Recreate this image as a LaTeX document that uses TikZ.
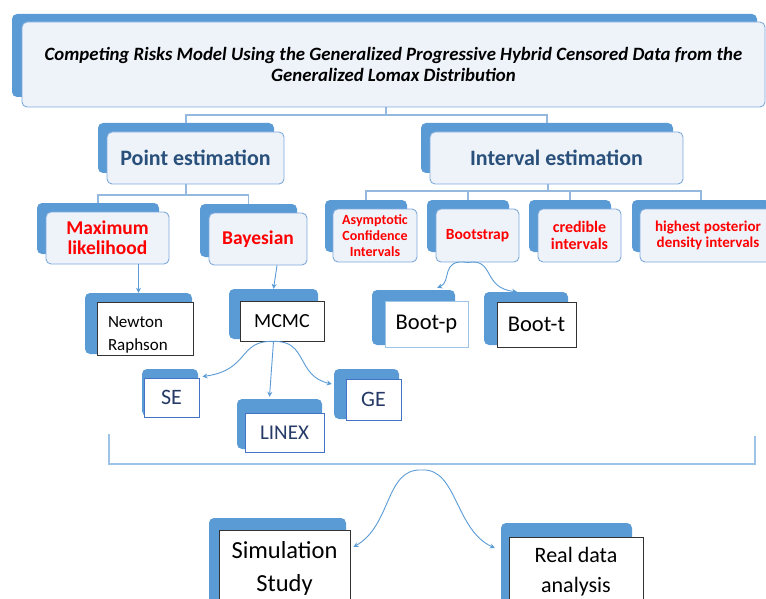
\documentclass[tikz,border=0pt]{standalone}
\usepackage{fontspec}
\setmainfont{Carlito}
\usetikzlibrary{arrows.meta,calc}
\definecolor{bk}{HTML}{5B9BD5}
\definecolor{fr}{HTML}{EEF3FA}
\definecolor{frb}{HTML}{7FA9DB}
\definecolor{ln}{HTML}{95B8DE}
\definecolor{ar}{HTML}{5B9BD5}
\definecolor{hd}{HTML}{29507A}
\definecolor{nv}{HTML}{253A66}
\definecolor{sb}{HTML}{4472C4}
\definecolor{lb}{HTML}{9DC3E6}
\newcommand\rbox[7]{%
  \node[#2, minimum width={(#5-#3)*1pt}, minimum height={(#6-#4)*1pt}] (#1) at ({(#3+#5)/2},{(#4+#6)/2}) {#7};}
\tikzset{
  back/.style={fill=bk, rounded corners=5pt, inner sep=0pt},
  front/.style={fill=fr, draw=frb, line width=0.9pt, rounded corners=5pt, inner sep=0pt, align=center},
  plainbox/.style={fill=white, draw=black!80, line width=0.9pt, inner sep=0pt, align=center},
  bluebox/.style={fill=white, draw=sb, line width=0.9pt, inner sep=0pt, align=center, text=nv},
  lightbox/.style={fill=white, draw=lb, line width=0.9pt, inner sep=0pt, align=center},
  conn/.style={draw=ln, line width=1.2pt},
  arr/.style={draw=ar, line width=0.9pt, -{Stealth[length=5pt,width=5pt]}},
  headtxt/.style={font=\fontsize{22}{24}\selectfont\bfseries, text=hd},
  redtxt/.style={font=\fontsize{19.5}{20}\selectfont\bfseries, text=red},
  redsm/.style={font=\fontsize{15.5}{17}\selectfont\bfseries, text=red},
  titletxt/.style={font=\fontsize{18.8}{21}\selectfont\bfseries\itshape},
}
\begin{document}
\begin{tikzpicture}[x=1pt,y=-1pt]
\useasboundingbox (0,0) rectangle (766,599);
\clip (0,0) rectangle (766,599);
% title
\rbox{tb}{back}{12}{14}{757}{97}{}
\rbox{t}{front,titletxt}{22}{22}{765}{107}{Competing Risks Model Using the Generalized Progressive Hybrid Censored Data from the\\ Generalized Lomax Distribution}
% level 1
\rbox{peb}{back}{98}{123}{274}{173}{}
\rbox{pe}{front,headtxt}{107}{132}{284}{184}{Point estimation}
\rbox{ieb}{back}{421}{123}{673}{173}{}
\rbox{ie}{front,headtxt}{430}{132}{683}{184}{Interval estimation}
% level 2
\rbox{mlb}{back}{37}{203}{159}{254}{}
\rbox{ml}{front,redtxt}{46}{212}{169}{264}{Maximum\\likelihood}
\rbox{bab}{back}{200}{204}{297}{257}{}
\rbox{ba}{front,redtxt}{209}{213}{307}{265}{Bayesian}
\rbox{asb}{back}{325}{200}{407}{252}{}
\rbox{as}{front,font=\fontsize{14}{16}\selectfont\bfseries,text=red}{333}{209}{417}{262}{Asymptotic\\Confidence\\Intervals}
\rbox{bsb}{back}{427}{200}{509}{252}{}
\rbox{bs}{front,redsm}{436}{209}{519}{262}{Bootstrap}
\rbox{crb}{back}{529}{200}{611}{252}{}
\rbox{cr}{front,font=\fontsize{16}{17}\selectfont\bfseries,text=red}{538}{209}{621}{262}{credible\\intervals}
\rbox{hpb}{back}{632}{200}{770}{252}{}
\rbox{hp}{front,font=\fontsize{15}{16}\selectfont\bfseries,text=red}{640}{209}{776}{262}{highest posterior\\density intervals}
% level 3
\rbox{nrb}{back}{85}{293}{192}{354}{}
\rbox{nr}{plainbox,font=\fontsize{17}{23}\selectfont,align=left,text width=74pt}{97}{302}{193}{355}{\rule{0pt}{23pt}Newton\\Raphson}
\rbox{mcb}{back}{229}{289}{318}{339}{}
\rbox{mc}{plainbox,font=\fontsize{20}{22}\selectfont}{240}{301}{324}{341}{MCMC}
\rbox{seb}{back}{142}{369}{198}{416}{}
\rbox{se}{bluebox,font=\fontsize{22}{24}\selectfont}{144}{378}{199}{417}{SE}
\rbox{lxb}{back}{237}{399}{322}{449}{}
\rbox{lx}{bluebox,font=\fontsize{21}{24}\selectfont}{245}{413}{324}{452}{LINEX}
\rbox{geb}{back}{334}{369}{399}{419}{}
\rbox{ge}{bluebox,font=\fontsize{22}{24}\selectfont}{346}{379}{401}{420}{GE}
\rbox{bpb}{back}{372}{290}{455}{345}{}
\rbox{bp}{lightbox,font=\fontsize{22.5}{24}\selectfont}{385}{301}{468}{347}{Boot-p}
\rbox{btb}{back}{484}{292}{568}{345}{}
\rbox{bt}{plainbox,font=\fontsize{22.5}{24}\selectfont}{497}{302}{576}{347}{Boot-t}
% bottom
\rbox{ssb}{back}{209}{518}{346}{615}{}
\rbox{ss}{plainbox,font=\fontsize{24.5}{33}\selectfont}{219}{530}{350}{606}{Simulation\\Study}
\rbox{rdb}{back}{501}{523}{632}{615}{}
\rbox{rd}{plainbox,font=\fontsize{22}{30}\selectfont}{509}{537}{643}{607}{Real data\\analysis}
% tree connectors
\coordinate (j0) at (386,115);
\draw[conn] (t.south -| j0) -- (j0);
\draw[conn] (peb.north) |- (j0) -| (ieb.north);
\coordinate (j1) at (186,195);
\draw[conn] (pe.south -| j1) -- (j1);
\draw[conn] (mlb.north) |- (j1) -| (bab.north);
\coordinate (j2) at (548,191);
\draw[conn] (ie.south -| j2) -- (j2);
\draw[conn] (asb.north) |- (j2) -| (hpb.north);
\draw[conn] (bsb.north) -- (bsb.north |- j2);
\draw[conn] (crb.north) -- (crb.north |- j2);
% arrows
\draw[arr] (nrb.north |- ml.south) -- (nrb.north);
\draw[arr] ([xshift=19pt]ba.south) -- (mcb.north);
\coordinate (m0) at (mcb.south |- mc.south);
\draw[arr] (m0) .. controls (238,340) and (250,370) .. ([shift={(3,-1)}]se.north east);
\draw[arr] (m0) -- ([shift={(-10,-2)}]lxb.north);
\draw[arr] (m0) .. controls (308,340) and (296,376) .. ([shift={(-2,-10)}]geb.west);
\coordinate (b0) at ([xshift=-9.5pt]bs.south);
\draw[arr] (b0) .. controls (440,258) and (452,282) .. ([shift={(-18,-2)}]bpb.north east);
\draw[arr] (b0) .. controls (495,258) and (482,288) .. ([xshift=-9pt]btb.north);
% bracket
\coordinate (k1) at (109,434);
\coordinate (k2) at (755,436);
\draw[draw=lb, line width=1.5pt] (k1) -- ++(0,30) -| (k2);
\coordinate (ap) at (422,470);
\draw[arr] (ap) .. controls (385,468) and (392,525) .. ([shift={(3,-21)}]ss.east);
\draw[arr] (ap) .. controls (457,468) and (455,530) .. ([shift={(-6,-21)}]rdb.west);
\end{tikzpicture}
\end{document}
